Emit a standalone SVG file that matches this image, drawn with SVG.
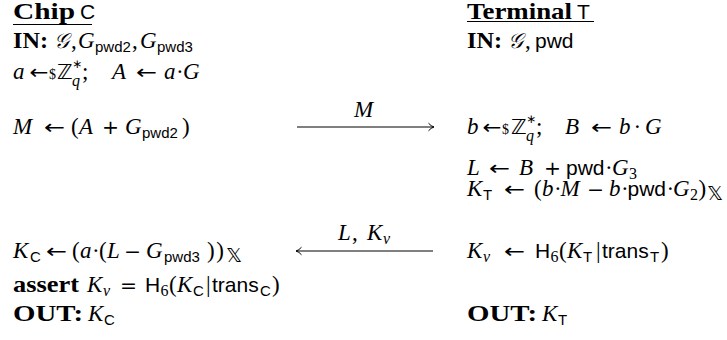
<svg xmlns="http://www.w3.org/2000/svg" width="727" height="340" viewBox="0 0 727 340">
<style>
text{font-family:"Liberation Serif","DejaVu Serif",serif;font-size:23px;fill:#000}
.b{font-weight:bold}
.i{font-style:italic}
.s{font-family:"Liberation Sans","DejaVu Sans",sans-serif;font-size:21px}
.ss{font-family:"Liberation Sans","DejaVu Sans",sans-serif;font-size:15px}
.si{font-style:italic;font-size:16px}
.sn{font-size:16px}
.ar{font-family:"DejaVu Sans",sans-serif;font-size:20px}
.op{font-family:"DejaVu Sans",sans-serif;font-size:19px}
.ds{font-family:"DejaVu Sans",sans-serif;font-size:21px}
.dx{font-family:"DejaVu Sans",sans-serif;font-size:20px}
.st{font-family:"DejaVu Sans",sans-serif;font-size:12px}
.sd{font-size:14px}
.cg{font-style:italic;font-size:21px}
.u{stroke:#000;stroke-width:1.2}
.conn{stroke:#000;stroke-width:1;fill:none}
</style>
<defs>
<marker id="ah" markerWidth="10" markerHeight="10" refX="7" refY="5" orient="auto" markerUnits="userSpaceOnUse">
<path d="M1.5,1.2 Q4,4.2 7,5 Q4,5.8 1.5,8.8" fill="none" stroke="#000" stroke-width="1"/>
</marker>
</defs>
<g id="chip-header">
<text x="13" y="19.3" class="b" font-size="21.5" textLength="62" lengthAdjust="spacingAndGlyphs">Chip</text>
<text x="80" y="19.3" class="s" font-size="19.5">C</text>
<line class="u" x1="13" y1="24.5" x2="92" y2="24.5"/>
</g>
<g id="chip-in">
<text y="48"><tspan x="13" class="b" textLength="35" lengthAdjust="spacingAndGlyphs">IN:</tspan><tspan x="54" class="cg">𝒢</tspan><tspan x="71">,</tspan><tspan x="78" class="i">G</tspan><tspan x="95" y="52" class="ss">pwd2</tspan><tspan x="132" y="48">,</tspan><tspan x="140" class="i">G</tspan><tspan x="157" y="52" class="ss">pwd3</tspan></text>
</g>
<g id="chip-sample">
<text y="79"><tspan x="13" class="i">a</tspan><tspan x="29.5" class="ar" textLength="19" lengthAdjust="spacingAndGlyphs">←</tspan><tspan x="49" class="sd">$</tspan><tspan x="57" class="ds">ℤ</tspan><tspan x="72" y="68" class="st">∗</tspan><tspan x="72" y="86" class="si">q</tspan><tspan x="82" y="79">;</tspan><tspan x="112" class="i">A</tspan><tspan x="136" class="ar" textLength="21" lengthAdjust="spacingAndGlyphs">←</tspan><tspan x="164" class="i">a</tspan><tspan x="176">·</tspan><tspan x="183" class="i">G</tspan></text>
</g>
<g id="chip-m">
<text y="134"><tspan x="13" class="i">M</tspan><tspan x="44" class="ar" textLength="21" lengthAdjust="spacingAndGlyphs">←</tspan><tspan x="71">(</tspan><tspan x="79" class="i">A</tspan><tspan x="102" class="op" textLength="17" lengthAdjust="spacingAndGlyphs">+</tspan><tspan x="125" class="i">G</tspan><tspan x="142" y="138" class="ss">pwd2</tspan><tspan x="182" y="134">)</tspan></text>
</g>
<g id="chip-kc">
<text y="258"><tspan x="13" class="i">K</tspan><tspan x="30" y="262" class="ss">C</tspan><tspan x="46" y="258" class="ar" textLength="21" lengthAdjust="spacingAndGlyphs">←</tspan><tspan x="72">(</tspan><tspan x="80" class="i">a</tspan><tspan x="92">·</tspan><tspan x="99">(</tspan><tspan x="107" class="i">L</tspan><tspan x="124" class="op" textLength="17" lengthAdjust="spacingAndGlyphs">−</tspan><tspan x="146" class="i">G</tspan><tspan x="164" y="262" class="ss">pwd3</tspan><tspan x="207" y="258" textLength="17" lengthAdjust="spacing">))</tspan><tspan x="226" y="262" class="dx">𝕏</tspan></text>
</g>
<g id="chip-assert">
<text y="292"><tspan x="13" class="b" textLength="66" lengthAdjust="spacingAndGlyphs">assert</tspan><tspan x="87" class="i">K</tspan><tspan x="103" y="296" class="si">v</tspan><tspan x="120" y="292" class="op" textLength="17" lengthAdjust="spacingAndGlyphs">=</tspan><tspan x="145" class="s">H</tspan><tspan x="160.5" y="296" class="sn">6</tspan><tspan x="169" y="292">(</tspan><tspan x="177" class="i">K</tspan><tspan x="193" y="296" class="ss">C</tspan><tspan x="206" y="292">|</tspan><tspan x="212" class="s">trans</tspan><tspan x="260" y="296" class="ss">C</tspan><tspan x="272" y="292">)</tspan></text>
</g>
<g id="chip-out">
<text y="321"><tspan x="13" class="b" textLength="70" lengthAdjust="spacingAndGlyphs">OUT:</tspan><tspan x="88" class="i">K</tspan><tspan x="104" y="325" class="ss">C</tspan></text>
</g>
<g id="term-header">
<text x="467" y="19.3" class="b" font-size="21.5" textLength="105" lengthAdjust="spacingAndGlyphs">Terminal</text>
<text x="577" y="19.3" class="s" font-size="19.5">T</text>
<line class="u" x1="467" y1="21.5" x2="594" y2="21.5"/>
</g>
<g id="term-in">
<text y="48"><tspan x="467" class="b" textLength="35" lengthAdjust="spacingAndGlyphs">IN:</tspan><tspan x="508" class="cg">𝒢</tspan><tspan x="525">,</tspan><tspan x="535" class="s">pwd</tspan></text>
</g>
<g id="term-sample">
<text y="134"><tspan x="467" class="i">b</tspan><tspan x="482.5" class="ar" textLength="19" lengthAdjust="spacingAndGlyphs">←</tspan><tspan x="502" class="sd">$</tspan><tspan x="511" class="ds">ℤ</tspan><tspan x="526" y="123" class="st">∗</tspan><tspan x="526" y="141" class="si">q</tspan><tspan x="536" y="134">;</tspan><tspan x="565" class="i">B</tspan><tspan x="591" class="ar" textLength="21" lengthAdjust="spacingAndGlyphs">←</tspan><tspan x="619" class="i">b</tspan><tspan x="633.6">·</tspan><tspan x="645" class="i">G</tspan></text>
</g>
<g id="term-l">
<text y="175"><tspan x="467" class="i">L</tspan><tspan x="489" class="ar" textLength="21" lengthAdjust="spacingAndGlyphs">←</tspan><tspan x="519" class="i">B</tspan><tspan x="544" class="op" textLength="17" lengthAdjust="spacingAndGlyphs">+</tspan><tspan x="566" class="s">pwd</tspan><tspan x="605">·</tspan><tspan x="612" class="i">G</tspan><tspan x="629" y="178.5" class="sn">3</tspan></text>
</g>
<g id="term-kt">
<text y="196"><tspan x="467" class="i">K</tspan><tspan x="483" y="200" class="ss">T</tspan><tspan x="504" y="196" class="ar" textLength="21" lengthAdjust="spacingAndGlyphs">←</tspan><tspan x="534">(</tspan><tspan x="542" class="i">b</tspan><tspan x="554">·</tspan><tspan x="560.5" class="i">M</tspan><tspan x="587" class="op" textLength="17" lengthAdjust="spacingAndGlyphs">−</tspan><tspan x="609" class="i">b</tspan><tspan x="621">·</tspan><tspan x="627.5" class="s">pwd</tspan><tspan x="666.5">·</tspan><tspan x="673" class="i">G</tspan><tspan x="690" y="200" class="sn">2</tspan><tspan x="698.5" y="196">)</tspan><tspan x="707" y="200" class="dx">𝕏</tspan></text>
</g>
<g id="term-kv">
<text y="258"><tspan x="467" class="i">K</tspan><tspan x="483" y="262" class="si">v</tspan><tspan x="504" y="258" class="ar" textLength="21" lengthAdjust="spacingAndGlyphs">←</tspan><tspan x="535" class="s">H</tspan><tspan x="550.5" y="262" class="sn">6</tspan><tspan x="559" y="258">(</tspan><tspan x="567" class="i">K</tspan><tspan x="583" y="262" class="ss">T</tspan><tspan x="596" y="258">|</tspan><tspan x="602" class="s">trans</tspan><tspan x="650" y="262" class="ss">T</tspan><tspan x="661" y="258">)</tspan></text>
</g>
<g id="term-out">
<text y="321"><tspan x="467" class="b" textLength="70" lengthAdjust="spacingAndGlyphs">OUT:</tspan><tspan x="542" class="i">K</tspan><tspan x="558" y="325" class="ss">T</tspan></text>
</g>
<g id="connectors">
<line class="conn" x1="297" y1="127" x2="434" y2="127" marker-end="url(#ah)"/>
<text x="354" y="117" class="i">M</text>
<line class="conn" x1="433" y1="251" x2="296" y2="251" marker-end="url(#ah)"/>
<text y="240"><tspan x="338" class="i">L</tspan><tspan x="352">,</tspan><tspan x="367" class="i">K</tspan><tspan x="383" y="244" class="si">v</tspan></text>
</g>
</svg>
